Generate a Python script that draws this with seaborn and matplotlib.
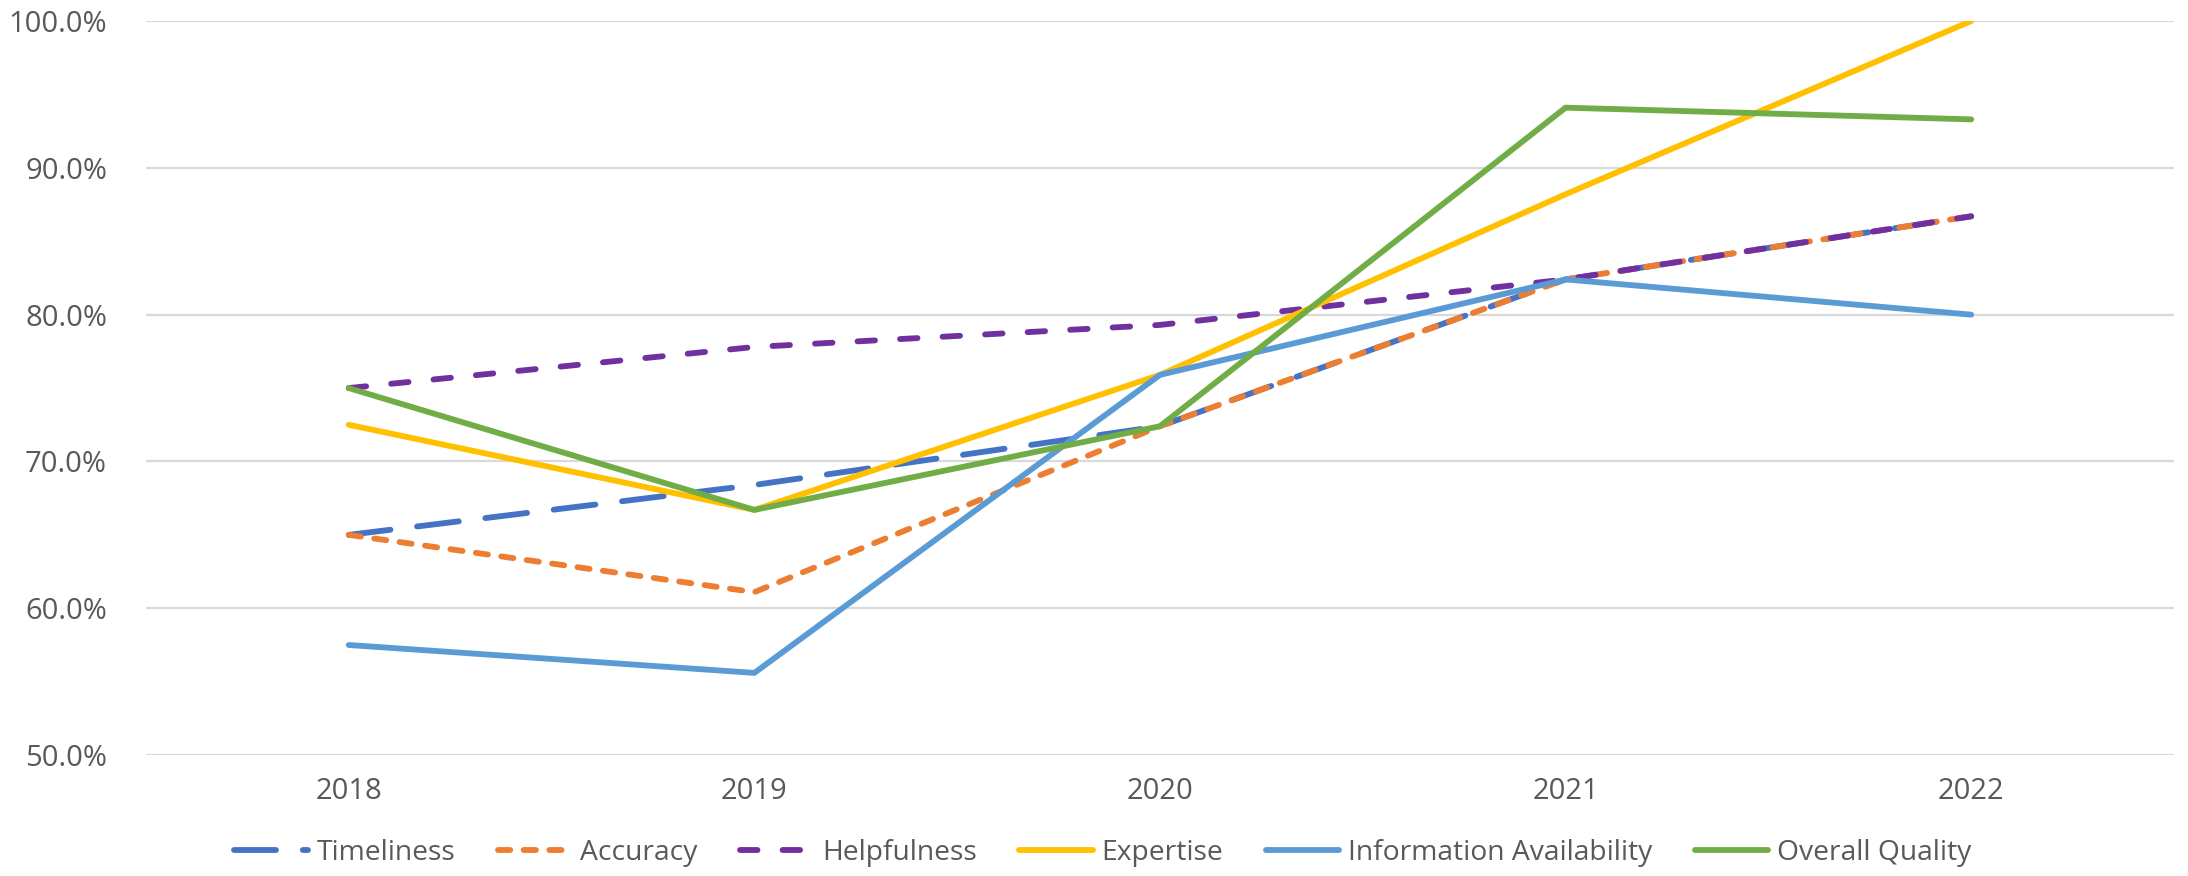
import pandas as pd
import matplotlib
matplotlib.use('Agg')
import matplotlib.pyplot as plt
import seaborn as sns
from matplotlib.ticker import PercentFormatter

# Valori
years = ["2018", "2019", "2020", "2021", "2022"]
timeliness = [0.650, 0.684, 0.724, 0.824, 0.867]
accuracy = [0.650, 0.611, 0.724, 0.824, 0.867]
helpfulness = [0.750, 0.778, 0.793, 0.824, 0.867]
expertise = [0.725, 0.667, 0.759, 0.882, 1.000]
info_availability = [0.575, 0.556, 0.759, 0.824, 0.800]
overall_quality = [0.750, 0.667, 0.724, 0.941, 0.933]

series = {
    "Timeliness": timeliness,
    "Accuracy": accuracy,
    "Helpfulness": helpfulness,
    "Expertise": expertise,
    "Information Availability": info_availability,
    "Overall Quality": overall_quality,
}

colors = {
    "Timeliness": "#4472C4",
    "Accuracy": "#ED7D31",
    "Helpfulness": "#7030A0",
    "Expertise": "#FFC000",
    "Information Availability": "#5B9BD5",
    "Overall Quality": "#70AD47",
}

dashes = {
    "Timeliness": (7.2, 4.6),
    "Accuracy": (2.1, 2.3),
    "Helpfulness": (3, 4.3),
    "Expertise": "",
    "Information Availability": "",
    "Overall Quality": "",
}

rows = []
for name, vals in series.items():
    for y, v in zip(years, vals):
        rows.append({"Year": y, "Value": v, "Series": name})
df = pd.DataFrame(rows)

sns.set_style("white")
plt.rcParams['font.family'] = ['Open Sans', 'DejaVu Sans']
plt.rcParams['lines.dash_capstyle'] = 'round'
plt.rcParams['lines.solid_capstyle'] = 'round'

fig, ax = plt.subplots(figsize=(10.94, 4.38), dpi=200)
fig.subplots_adjust(left=0.0667, right=0.9936, top=0.976, bottom=0.138)

sns.lineplot(
    data=df, x="Year", y="Value", hue="Series", style="Series",
    palette=colors, dashes=dashes, linewidth=2.1, ax=ax, sort=False,
)

ax.set_xlim(-0.5, len(years) - 0.5)
ax.set_ylim(0.5, 1.0)
ax.set_yticks([0.5, 0.6, 0.7, 0.8, 0.9, 1.0])
ax.yaxis.set_major_formatter(PercentFormatter(1.0, decimals=1))
ax.grid(axis="y", color="#D9D9D9", linewidth=0.8)
ax.set_axisbelow(True)
for s in ax.spines.values():
    s.set_visible(False)
ax.tick_params(axis="both", length=0, labelsize=10.5, labelcolor="#595959", pad=8)
ax.tick_params(axis="y", pad=14)
ax.set_xlabel("")
ax.set_ylabel("")

handles, labels = ax.get_legend_handles_labels()
ax.legend_.remove()
fig.legend(handles, labels, loc="center", bbox_to_anchor=(0.504, 0.026),
           ncol=6, frameon=False, fontsize=10.2, handlelength=2.6,
           handletextpad=0.3, columnspacing=1.5, labelcolor="#595959")

fig.savefig("out.png", dpi=200)
